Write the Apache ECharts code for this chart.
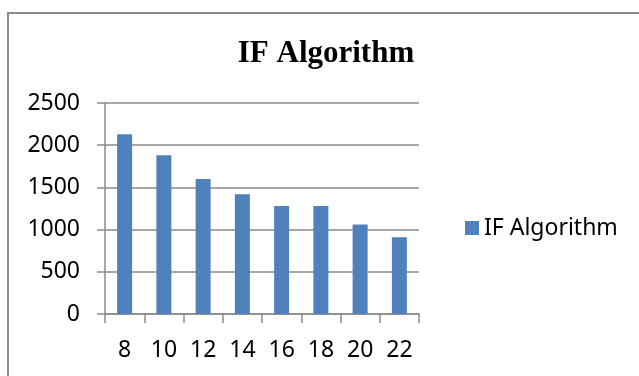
<!DOCTYPE html>
<html>
<head>
<meta charset="utf-8">
<script src="https://cdn.jsdelivr.net/npm/echarts@6/dist/echarts.min.js"></script>
<style>
  html, body { margin: 0; padding: 0; background: #ffffff; }
  #chart { width: 639px; height: 376px; }
</style>
</head>
<body>
<div id="chart"></div>
<script>
// Run-time per problem size for the IF algorithm
const categories = ['8', '10', '12', '14', '16', '18', '20', '22'];
const ifValues = [2130, 1880, 1600, 1420, 1280, 1280, 1060, 910];
const yTicks = { min: 0, max: 2500, interval: 500 };
const seriesName = 'IF Algorithm';
const chartTitle = 'IF Algorithm';

const axisGrey = '#8a8a8a';
const labelFont = '"Noto Sans", "Open Sans", sans-serif';

const chart = echarts.init(document.getElementById('chart'), null, { renderer: 'canvas' });

chart.setOption({
  backgroundColor: '#ffffff',
  animation: false,
  title: {
    text: chartTitle,
    left: 321,
    top: 33,
    textAlign: 'center',
    textStyle: {
      fontFamily: '"Liberation Serif", "Times New Roman", serif',
      fontWeight: 'bold',
      fontSize: 31,
      color: '#000000'
    }
  },
  legend: {
    data: [seriesName],
    left: 460,
    top: 211,
    itemWidth: 14,
    itemHeight: 14,
    icon: 'rect',
    itemGap: 6,
    textStyle: {
      fontFamily: labelFont,
      fontSize: 23,
      lineHeight: 24,
      color: '#000000'
    }
  },
  grid: {
    left: 105,
    right: 220,
    top: 103,
    bottom: 62
  },
  xAxis: {
    type: 'category',
    data: categories,
    boundaryGap: true,
    axisLine: { show: true, lineStyle: { color: axisGrey, width: 1.5 } },
    axisTick: { show: true, length: 9, alignWithLabel: false, lineStyle: { color: axisGrey, width: 1.5 } },
    axisLabel: {
      margin: 25,
      fontFamily: labelFont,
      fontSize: 23,
      color: '#000000'
    },
    splitLine: { show: false }
  },
  yAxis: {
    type: 'value',
    min: yTicks.min,
    max: yTicks.max,
    interval: yTicks.interval,
    axisLine: { show: true, lineStyle: { color: axisGrey, width: 1.5 } },
    axisTick: { show: true, length: 8, lineStyle: { color: axisGrey, width: 1.5 } },
    axisLabel: {
      margin: 25,
      fontFamily: labelFont,
      fontSize: 23,
      color: '#000000',
      formatter: (v) => String(v)
    },
    splitLine: { show: true, lineStyle: { color: axisGrey, width: 1.5 } }
  },
  series: [{
    name: seriesName,
    type: 'bar',
    data: ifValues,
    barWidth: 15,
    itemStyle: { color: '#4f81bd' }
  }],
  graphic: [{
    type: 'rect',
    silent: true,
    z: -1,
    shape: { x: 8, y: 13, width: 700, height: 420 },
    style: { fill: 'none', stroke: '#8c8c8c', lineWidth: 2 }
  }]
});
</script>
</body>
</html>
